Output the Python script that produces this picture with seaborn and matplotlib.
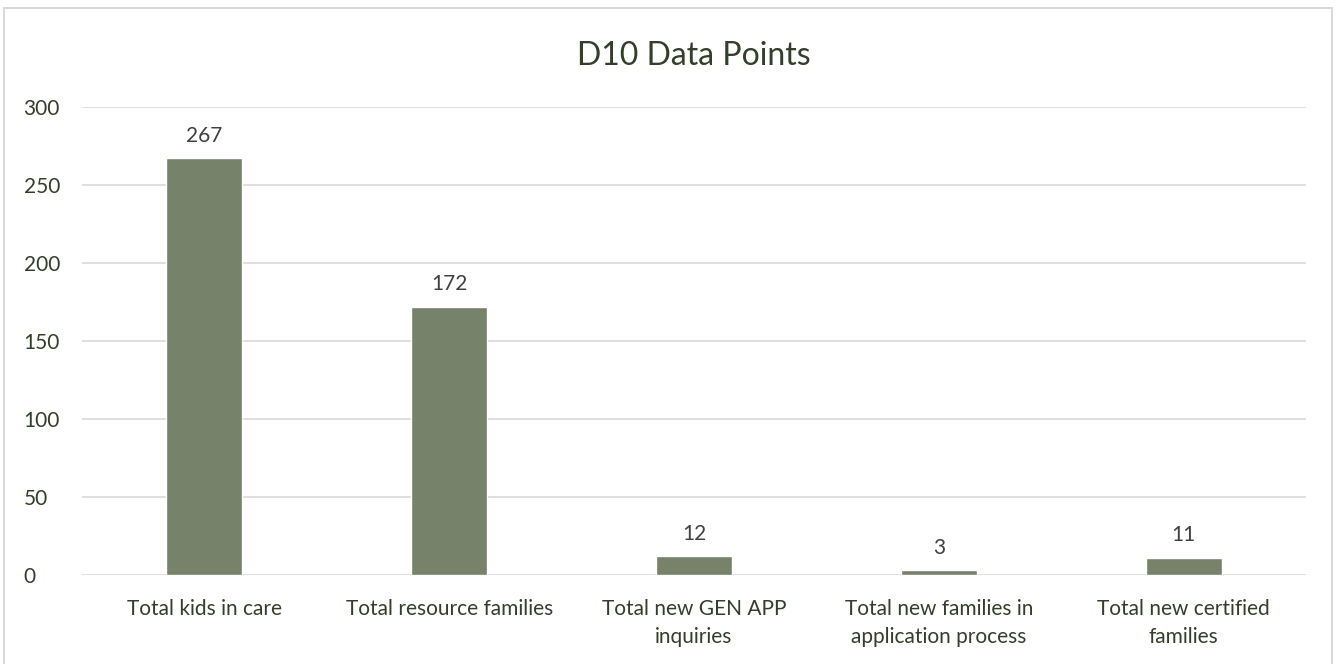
import matplotlib
matplotlib.use("Agg")
import matplotlib.pyplot as plt
import seaborn as sns
import pandas as pd
from matplotlib.patches import Rectangle

# ======== DATA =========
categories = ["Total kids in care", "Total resource families",
              "Total new GEN APP\ninquiries",
              "Total new families in\napplication process",
              "Total new certified\nfamilies"]
values = [267, 172, 12, 3, 11]
y_ticks = [0, 50, 100, 150, 200, 250, 300]

df = pd.DataFrame({"category": categories, "value": values})

# ======== STYLE =========
sns.set_style("white")
plt.rcParams['font.family'] = ['Lato', 'DejaVu Sans']
text_col = "#333f2a"
label_col = "#404040"
bar_col = "#76836a"

fig = plt.figure(figsize=(13.37, 6.64), dpi=100)
ax = fig.add_axes([0.0613, 0.134, 0.9155, 0.705])

sns.barplot(data=df, x="category", y="value", color=bar_col, width=0.31,
            saturation=1, ax=ax, zorder=3)

ax.set_ylim(0, 300)
ax.set_yticks(y_ticks)
ax.yaxis.grid(True, color="#d9d9d9", linewidth=1.2, zorder=0)
ax.set_axisbelow(True)
for s in ax.spines.values():
    s.set_visible(False)
ax.tick_params(axis="both", length=0, labelsize=15, labelcolor=text_col)
ax.tick_params(axis="x", pad=17)
ax.tick_params(axis="y", pad=42)
for lbl in ax.get_yticklabels():
    lbl.set_horizontalalignment("left")
for lbl in ax.get_xticklabels():
    lbl.set_linespacing(1.5)
ax.set_xlabel("")
ax.set_ylabel("")

# value labels
for container in ax.containers:
    ax.bar_label(container, padding=9, fontsize=15, color=label_col)

ax.set_title("D10 Data Points", fontsize=23, color=text_col, pad=30)

# outer chart border
fig.patches.append(Rectangle((0.003, -0.01), 0.993, 0.998, transform=fig.transFigure,
                             fill=False, edgecolor="#d9d9d9", linewidth=1.5))

plt.savefig("out.png", dpi=100)
plt.close()
